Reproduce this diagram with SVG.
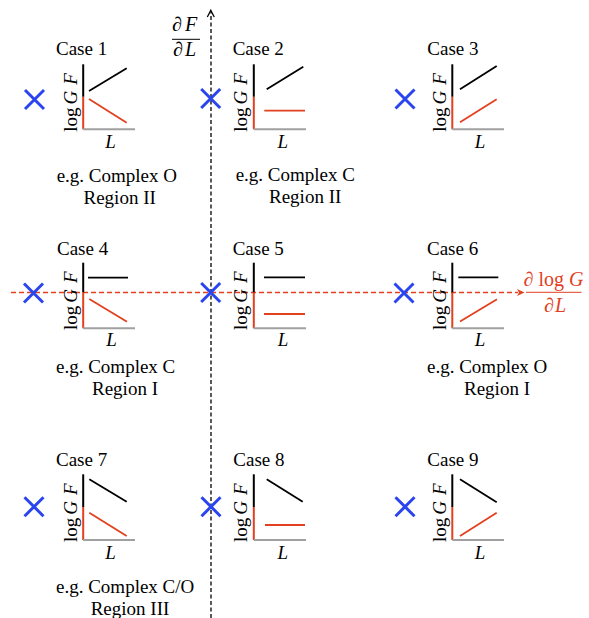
<svg xmlns="http://www.w3.org/2000/svg" width="589" height="618" viewBox="0 0 589 618">
<style>
text{font-family:"Liberation Serif","Times New Roman",serif;font-size:19px;fill:#000}
.it{font-style:italic}
.ax{stroke:#000;stroke-width:2;fill:none}
.axr{stroke:#e2401f;stroke-width:2;fill:none}
.axg{stroke:#a0a0a0;stroke-width:2;fill:none}
.lk{stroke:#000;stroke-width:1.8;fill:none}
.lr{stroke:#e2401f;stroke-width:1.8;fill:none}
.x{stroke:#2b45ee;stroke-width:3;fill:none}
.lab{font-size:19px}
.m{font-size:20px}
.red{fill:#e2401f}
</style>
<defs>
<g id="xm"><path class="x" d="M-9.5,-9.5L9.5,9.5M-9.5,9.5L9.5,-9.5"/></g>
</defs>

<g id="connectors">
<line x1="211" y1="618" x2="211" y2="12" stroke="#000" stroke-width="1.3" stroke-dasharray="4,2.5"/>
<path d="M207.3,17 Q209.5,13 210.8,10.3 Q212,13 214.3,17" stroke="#000" stroke-width="1.3" fill="none"/>
<line x1="11" y1="292.5" x2="518" y2="292.5" stroke="#e2401f" stroke-width="1.6" stroke-dasharray="5,3"/>
<path d="M524.5,292.5 L517,289 L519,292.5 L517,296 Z" fill="#e2401f"/>
</g>

<g id="label-dFdL">
<text class="m" x="172" y="31">∂<tspan class="it" x="185">F</tspan></text>
<line x1="172" y1="39.3" x2="200" y2="39.3" stroke="#000" stroke-width="1"/>
<text class="m" x="173" y="56">∂<tspan class="it" x="185">L</tspan></text>
</g>

<g id="label-dlogGdL">
<text class="red m" x="553.5" y="286" text-anchor="middle">∂ log <tspan class="it">G</tspan></text>
<line x1="526" y1="292.3" x2="581.5" y2="292.3" stroke="#e2401f" stroke-width="1"/>
<text class="red m" x="555" y="312" text-anchor="middle">∂<tspan class="it" dx="1">L</tspan></text>
</g>

<g id="case1">
<text x="56" y="55">Case 1</text>
<path class="ax" d="M83.2,64.3V96.8"/><path class="axr" d="M83.2,96.8V129.3"/><path class="axg" d="M83.2,129.3H135"/>
<text class="lab" transform="translate(76.5,131.7) rotate(-90)">log<tspan class="it" dx="3">G</tspan><tspan class="it" dx="6">F</tspan></text>
<text class="it" x="110.5" y="148" text-anchor="middle">L</text>
<line class="lk" x1="89" y1="91" x2="126.7" y2="68.3"/>
<line class="lr" x1="89" y1="99" x2="126.7" y2="122.7"/>
<use href="#xm" x="34.5" y="99.5"/>
<text x="56.7" y="182">e.g. Complex O</text>
<text x="83.5" y="204">Region II</text>
</g>

<g id="case2">
<text x="232.7" y="55">Case 2</text>
<path class="ax" d="M253.8,64.3V96.8"/><path class="axr" d="M253.8,96.8V129.3"/><path class="axg" d="M253.8,129.3H306"/>
<text class="lab" transform="translate(247,131.7) rotate(-90)">log<tspan class="it" dx="3">G</tspan><tspan class="it" dx="6">F</tspan></text>
<text class="it" x="282.8" y="148" text-anchor="middle">L</text>
<line class="lk" x1="266.7" y1="89.3" x2="303.3" y2="66.7"/>
<line class="lr" x1="264.3" y1="110.7" x2="305" y2="110.7"/>
<use href="#xm" x="210.7" y="98.5"/>
<text x="235.7" y="181">e.g. Complex C</text>
<text x="269" y="203">Region II</text>
</g>

<g id="case3">
<text x="427.3" y="55">Case 3</text>
<path class="ax" d="M452.3,64.3V96.8"/><path class="axr" d="M452.3,96.8V129.3"/><path class="axg" d="M452.3,129.3H504"/>
<text class="lab" transform="translate(445.5,131.7) rotate(-90)">log<tspan class="it" dx="3">G</tspan><tspan class="it" dx="6">F</tspan></text>
<text class="it" x="480" y="148" text-anchor="middle">L</text>
<line class="lk" x1="460" y1="89.3" x2="496.7" y2="66"/>
<line class="lr" x1="460" y1="122.3" x2="496.7" y2="99.3"/>
<use href="#xm" x="405" y="99"/>
</g>

<g id="case4">
<text x="57" y="255">Case 4</text>
<path class="ax" d="M83.2,262.7V292.5"/><path class="axr" d="M83.2,292.5V328.3"/><path class="axg" d="M83.2,328.3H135"/>
<text class="lab" transform="translate(76.5,330) rotate(-90)">log<tspan class="it" dx="3">G</tspan><tspan class="it" dx="6">F</tspan></text>
<text class="it" x="111.5" y="346" text-anchor="middle">L</text>
<line class="lk" x1="88" y1="277.7" x2="128" y2="277.7"/>
<line class="lr" x1="89.3" y1="299" x2="127" y2="321.7"/>
<use href="#xm" x="33.5" y="293"/>
<text x="56" y="373">e.g. Complex C</text>
<text x="92" y="395">Region I</text>
</g>

<g id="case5">
<text x="232.7" y="255">Case 5</text>
<path class="ax" d="M253.8,262.7V292.5"/><path class="axr" d="M253.8,292.5V328.3"/><path class="axg" d="M253.8,328.3H306"/>
<text class="lab" transform="translate(247,330) rotate(-90)">log<tspan class="it" dx="3">G</tspan><tspan class="it" dx="6">F</tspan></text>
<text class="it" x="283" y="346" text-anchor="middle">L</text>
<line class="lk" x1="264" y1="277.3" x2="305" y2="277.3"/>
<line class="lr" x1="264" y1="314" x2="305" y2="314"/>
<use href="#xm" x="210.7" y="292.5"/>
</g>

<g id="case6">
<text x="427" y="255">Case 6</text>
<path class="ax" d="M452.3,262.7V292.5"/><path class="axr" d="M452.3,292.5V328.3"/><path class="axg" d="M452.3,328.3H504"/>
<text class="lab" transform="translate(445.5,330) rotate(-90)">log<tspan class="it" dx="3">G</tspan><tspan class="it" dx="6">F</tspan></text>
<text class="it" x="480" y="346" text-anchor="middle">L</text>
<line class="lk" x1="458.3" y1="277.3" x2="498.3" y2="277.3"/>
<line class="lr" x1="460" y1="321.5" x2="497" y2="299.3"/>
<use href="#xm" x="404" y="293"/>
<text x="427" y="372.5">e.g. Complex O</text>
<text x="464" y="394.5">Region I</text>
</g>

<g id="case7">
<text x="56" y="465.7">Case 7</text>
<path class="ax" d="M83.2,474.3V507"/><path class="axr" d="M83.2,507V540"/><path class="axg" d="M83.2,540H135"/>
<text class="lab" transform="translate(76.5,542) rotate(-90)">log<tspan class="it" dx="3">G</tspan><tspan class="it" dx="6">F</tspan></text>
<text class="it" x="110.5" y="558.5" text-anchor="middle">L</text>
<line class="lk" x1="89.3" y1="479.3" x2="126.7" y2="501.7"/>
<line class="lr" x1="89.3" y1="512.7" x2="126.7" y2="536"/>
<use href="#xm" x="34" y="506.7"/>
<text x="56" y="592.5">e.g. Complex C/O</text>
<text x="90.7" y="614.5">Region III</text>
</g>

<g id="case8">
<text x="233.3" y="465.7">Case 8</text>
<path class="ax" d="M253.8,474.3V507"/><path class="axr" d="M253.8,507V540"/><path class="axg" d="M253.8,540H306"/>
<text class="lab" transform="translate(247,542) rotate(-90)">log<tspan class="it" dx="3">G</tspan><tspan class="it" dx="6">F</tspan></text>
<text class="it" x="282.7" y="558.5" text-anchor="middle">L</text>
<line class="lk" x1="266.7" y1="479.3" x2="302.7" y2="501.7"/>
<line class="lr" x1="265" y1="525" x2="305" y2="525"/>
<use href="#xm" x="211" y="506.7"/>
</g>

<g id="case9">
<text x="427.3" y="465.7">Case 9</text>
<path class="ax" d="M452.3,474.3V507"/><path class="axr" d="M452.3,507V540"/><path class="axg" d="M452.3,540H504"/>
<text class="lab" transform="translate(445.5,542) rotate(-90)">log<tspan class="it" dx="3">G</tspan><tspan class="it" dx="6">F</tspan></text>
<text class="it" x="480" y="558.5" text-anchor="middle">L</text>
<line class="lk" x1="460" y1="479.3" x2="496.7" y2="502.3"/>
<line class="lr" x1="460" y1="536" x2="496.7" y2="512.7"/>
<use href="#xm" x="405" y="506.7"/>
</g>
</svg>
